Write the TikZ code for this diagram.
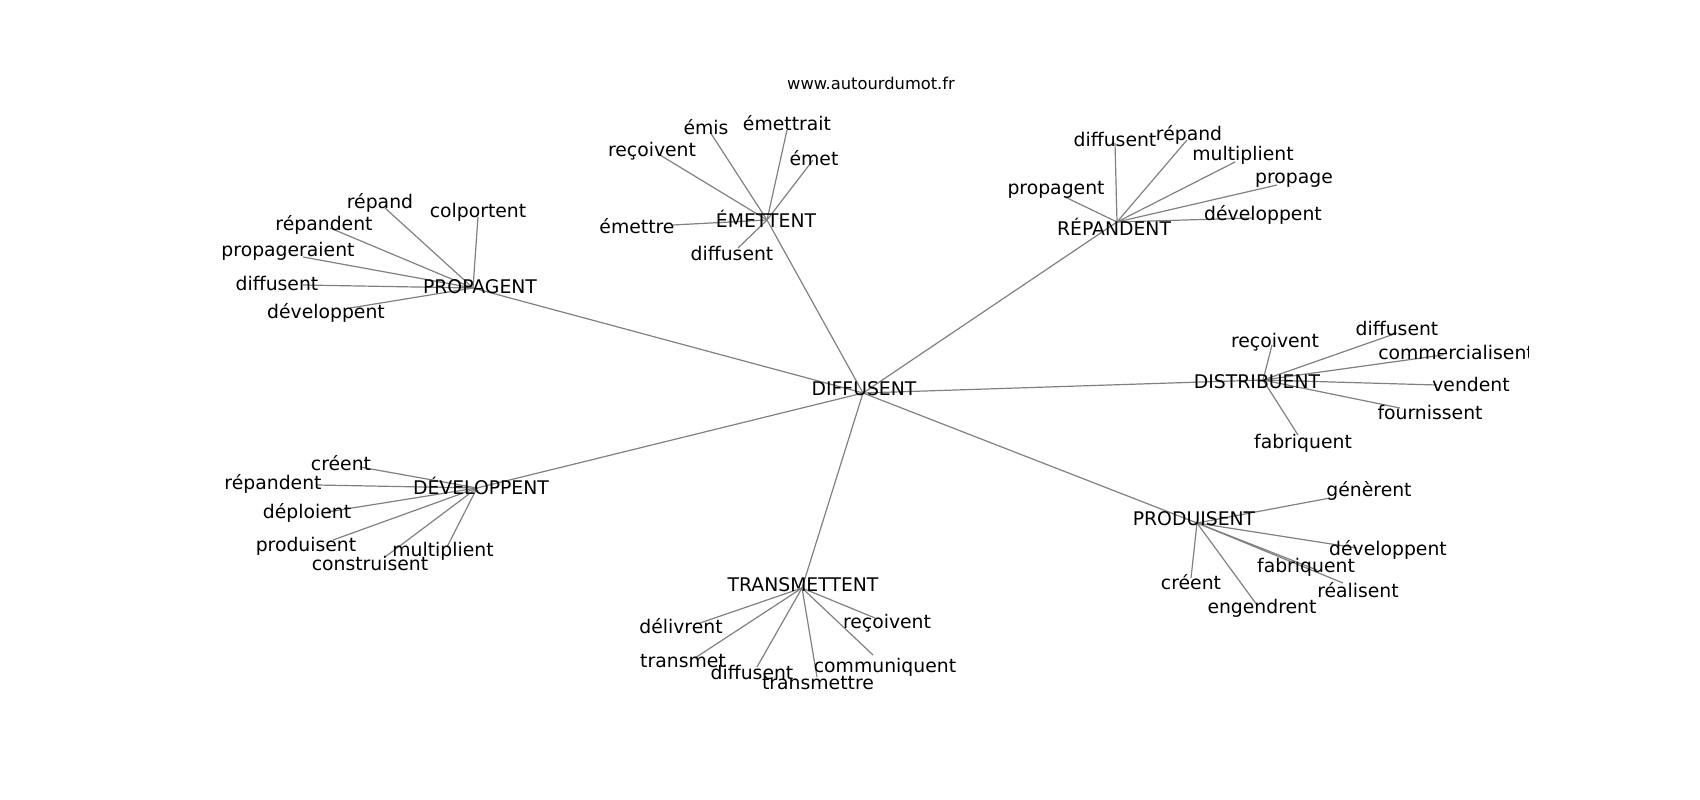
\documentclass[tikz,border=0pt]{standalone}
\usepackage{fontspec}
\setmainfont{DejaVu Sans}
\begin{document}
\begin{tikzpicture}[x=1bp,y=-1bp,
	mot/.style={inner sep=0pt,font=\fontsize{18.8bp}{22bp}\selectfont},
	arete/.style={draw=gray,line width=1.2bp}]
	\useasboundingbox (0,0) rectangle (1700,800);
	\node[inner sep=0pt,font=\fontsize{16.3bp}{19bp}\selectfont] (titre) at (871,83) {www.autourdumot.fr};
	\begin{scope}
	\clip (212,96) rectangle (1528,712); % le cadre du graphe
	% les sommets (bouts des aretes)
	\foreach \n/\x/\y in {dif/863/393,
		prop/473/288, prop1/385/208, prop2/478/217, prop3/330/228, prop4/303/257, prop5/303/285, prop6/350/308,
		emet/767/220, emet1/710/132, emet2/787/130, emet3/660/155, emet4/813/160, emet5/673/225, emet6/738/248,
		repa/1117/222, repa1/1115/143, repa2/1187/140, repa3/1235/162, repa4/1277/185, repa5/1065/197, repa6/1253/218,
		dist/1263/380, dist1/1272/345, dist2/1397/333, dist3/1443/355, dist4/1437/385, dist5/1400/408, dist6/1298/435,
		prod/1197/523, prod1/1330/498, prod2/1357/548, prod3/1317/570, prod4/1343/583, prod5/1191/578, prod6/1257/605,
		dev/477/488, dev1/360/467, dev2/317/485, dev3/327/512, dev4/333/540, dev5/385/557, dev6/447/547,
		trans/802/588, trans1/700/623, trans2/875/618, trans3/695/658, trans4/757/667, trans5/873/655, trans6/817/677}
		\coordinate (\n) at (\x,\y);
	% les aretes
	\foreach \h in {prop,emet,repa,dist,prod,dev,trans}{
		\draw[arete] (dif) -- (\h);
		\foreach \i in {1,...,6} \draw[arete] (\h) -- (\h\i);
	}
	% les mots
	\foreach \n/\x/\y/\t in {dif/864/389/DIFFUSENT,
		prop/480/287/PROPAGENT, prop1/380/203/répand, prop2/478/212/colportent, prop3/324/225/répandent, prop4/288/251/propageraient, prop5/277/283/diffusent, prop6/326/313/développent,
		emet/766/219/ÉMETTENT, emet1/706/127/émis, emet2/787/123/émettrait, emet3/652/151/reçoivent, emet4/814/158/émet, emet5/637/226/émettre, emet6/732/253/diffusent,
		repa/1114/227/RÉPANDENT, repa1/1115/139/diffusent, repa2/1189/135/répand, repa3/1243/155/multiplient, repa4/1294/180/propage, repa5/1056/190/propagent, repa6/1263/215/développent,
		dist/1257/382/DISTRIBUENT, dist1/1275/342/reçoivent, dist2/1397/328/diffusent, dist3/1456/352/commercialisent, dist4/1471/384/vendent, dist5/1430/412/fournissent, dist6/1303/443/fabriquent,
		prod/1194/519/PRODUISENT, prod1/1369/491/génèrent, prod2/1388/550/développent, prod3/1306/567/fabriquent, prod4/1358/590/réalisent, prod5/1191/582/créent, prod6/1262/608/engendrent,
		dev/481/486/DÉVELOPPENT, dev1/341/463/créent, dev2/273/484/répandent, dev3/307/513/déploient, dev4/306/546/produisent, dev5/370/563/construisent, dev6/443/551/multiplient,
		trans/803/585/TRANSMETTENT, trans1/681/626/délivrent, trans2/887/623/reçoivent, trans3/683/661/transmet, trans4/752/672/diffusent, trans5/885/667/communiquent, trans6/818/683/transmettre}
		\node[mot] (\n-t) at (\x,\y) {\t};
	\end{scope}
\end{tikzpicture}
\end{document}
